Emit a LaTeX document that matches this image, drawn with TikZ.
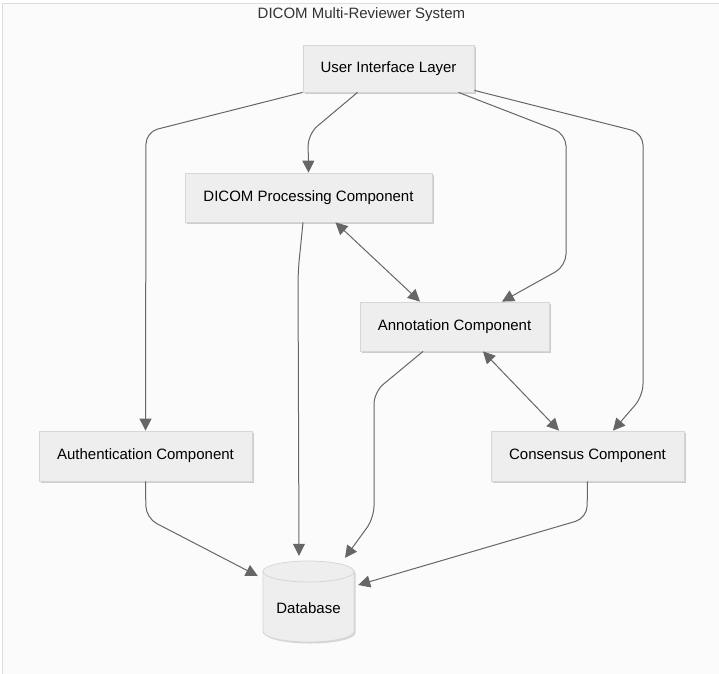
\documentclass[tikz,border=0pt]{standalone}
\usepackage{fontspec}
\setmainfont{Liberation Sans}
\usetikzlibrary{arrows.meta,shadows}
\definecolor{boxfill}{HTML}{EEEEEE}
\definecolor{boxline}{HTML}{D6D6D6}
\definecolor{edgec}{HTML}{666666}
\definecolor{bgc}{HTML}{FBFBFB}
\definecolor{framec}{HTML}{DDDDDD}
\definecolor{titlec}{HTML}{333333}
\begin{document}
\begin{tikzpicture}[x=1pt,y=-1pt,
  box/.style={draw=boxline, fill=boxfill, line width=0.8pt, inner sep=0pt,
    font=\fontsize{15}{18}\selectfont,
    drop shadow={shadow xshift=1.5pt, shadow yshift=-1.5pt, opacity=0.18, fill=black}},
  tip/.tip={Triangle[length=12pt,width=12pt]},
  arr/.style={draw=edgec, line width=1pt, rounded corners=12pt, -tip},
  biarr/.style={draw=edgec, line width=1pt, tip-tip}]
\useasboundingbox (0,0) rectangle (719,673);
\draw[framec, fill=bgc, line width=1pt] (2.5,3.5) rectangle (730,690);
\node[text=titlec, font=\fontsize{15}{18}\selectfont] (title) at (361.5,15) {DICOM Multi-Reviewer System};

\node[box, minimum width=171pt, minimum height=47pt] (ui) at (388.5,68.5) {User Interface Layer};
\node[box, minimum width=247pt, minimum height=49pt] (dicom) at (308.5,197.5) {DICOM Processing Component};
\node[box, minimum width=189pt, minimum height=49pt] (ann) at (454.5,326.5) {Annotation Component};
\node[box, minimum width=213pt, minimum height=50pt] (auth) at (145.5,456) {Authentication Component};
\node[box, minimum width=193pt, minimum height=50pt] (cons) at (587.5,456) {Consensus Component};

% database cylinder
\begin{scope}[shift={(1.5,1.5)}]
\fill[black, opacity=0.15] (263,571.5) -- (263,631.5)
  arc[start angle=180,end angle=0,x radius=45.5,y radius=10.5] -- (354,571.5)
  arc[start angle=0,end angle=-180,x radius=45.5,y radius=10.5] -- cycle;
\end{scope}
\draw[boxline, fill=boxfill, line width=0.8pt] (263,571.5) -- (263,631.5)
  arc[start angle=180,end angle=0,x radius=45.5,y radius=10.5] -- (354,571.5)
  arc[start angle=0,end angle=-180,x radius=45.5,y radius=10.5] -- cycle;
\draw[boxline, line width=0.8pt] (263,571.5) arc[start angle=180,end angle=0,x radius=45.5,y radius=10.5];
\node[inner sep=0pt, minimum width=91pt, minimum height=81pt] (db) at (308.5,601.5) {};
\node[font=\fontsize{15}{18}\selectfont] (dblabel) at (308.5,608) {Database};

% connectors
\draw[arr] (ui.south west) -- (146,132) -- (auth.north);
\draw[arr] ([xshift=-31pt]ui.south) -- (308,134) -- (dicom.north);
\draw[arr] ([xshift=70pt]ui.south) -- (566,134) -- (566,266) -- ([xshift=47.5pt]ann.north);
\draw[arr] ([yshift=2pt]ui.south east) -- (643,133) -- (643,396) -- ([xshift=25.5pt]cons.north);
\draw[biarr] ([xshift=27pt]dicom.south) -- ([xshift=-34.5pt]ann.north);
\draw[biarr] ([xshift=28.5pt]ann.south) -- ([xshift=-28.5pt]cons.north);
\draw[arr] ([xshift=-5.5pt]dicom.south) -- (298,272) -- ([xshift=-9.5pt,yshift=5pt]db.north);
\draw[arr] ([xshift=-31.5pt]ann.south) -- (374,392) -- (374,518) -- ([xshift=36.5pt,yshift=3pt]db.north);
\draw[arr] (auth.south) -- (146,518) -- ([xshift=-5pt,yshift=25.5pt]db.west);
\draw[arr] (cons.south) -- (587,518) -- ([xshift=4pt,yshift=16.5pt]db.east);
\end{tikzpicture}
\end{document}
